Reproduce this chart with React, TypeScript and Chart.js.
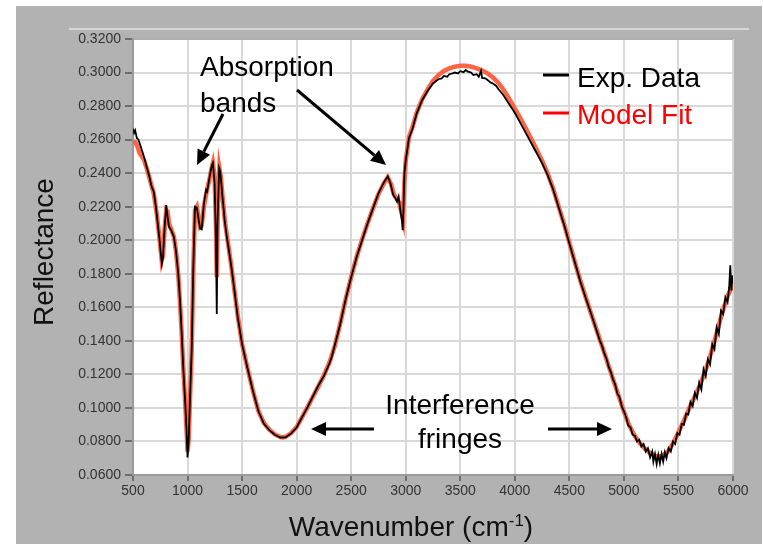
import React, { useEffect, useRef } from "react";
import { Chart, registerables } from "chart.js";

Chart.register(...registerables);

// Model fit (red) — wavenumber (cm-1) and reflectance
const fitWavenumber = [
  500, 520, 540, 560, 580, 600, 630, 660, 690, 715, 735, 750, 763, 775, 790, 805, 818, 830, 850, 875,
  895, 915, 930, 946, 960, 977, 990, 1000, 1010, 1025, 1038, 1053, 1068, 1085, 1100, 1115, 1130, 1150,
  1175, 1200, 1220, 1232, 1248, 1260, 1268, 1278, 1292, 1305, 1325, 1345, 1365, 1400, 1430, 1460, 1500,
  1550, 1600, 1650, 1700, 1750, 1800, 1850, 1875, 1900, 1950, 2000, 2050, 2100, 2150, 2200, 2250, 2300,
  2350, 2400, 2450, 2500, 2550, 2600, 2650, 2700, 2750, 2800, 2835, 2865, 2890, 2915, 2940, 2960, 2975,
  2988, 3000, 3030, 3060, 3100, 3150, 3200, 3250, 3300, 3350, 3400, 3450, 3500, 3550, 3600, 3650, 3700,
  3750, 3800, 3850, 3900, 3950, 4000, 4050, 4100, 4150, 4200, 4250, 4300, 4350, 4400, 4450, 4500, 4550,
  4600, 4650, 4700, 4750, 4800, 4850, 4900, 4950, 5000, 5050, 5100, 5150, 5200, 5250, 5300, 5350, 5400,
  5450, 5500, 5550, 5600, 5650, 5700, 5750, 5800, 5850, 5900, 5950, 6000,
];
const fitReflectance = [
  0.259, 0.2585, 0.256, 0.252, 0.25, 0.248, 0.242, 0.235, 0.228, 0.217, 0.206, 0.197, 0.188, 0.191, 0.207,
  0.218, 0.217, 0.21, 0.2065, 0.202, 0.193, 0.179, 0.164, 0.145, 0.125, 0.105, 0.088, 0.074, 0.081, 0.11,
  0.1345, 0.183, 0.218, 0.22, 0.214, 0.208, 0.209, 0.22, 0.229, 0.236, 0.243, 0.246, 0.238, 0.21, 0.178,
  0.22, 0.243, 0.238, 0.223, 0.21, 0.201, 0.185, 0.17, 0.155, 0.138, 0.1235, 0.11, 0.098, 0.091, 0.087,
  0.0842, 0.0826, 0.0824, 0.0828, 0.085, 0.0886, 0.0945, 0.1005, 0.1068, 0.113, 0.1195, 0.127, 0.137,
  0.1505, 0.165, 0.178, 0.19, 0.2005, 0.21, 0.219, 0.2275, 0.234, 0.2375, 0.2335, 0.2275, 0.225, 0.2225,
  0.217, 0.2125, 0.235, 0.2475, 0.2615, 0.267, 0.276, 0.284, 0.29, 0.295, 0.2985, 0.301, 0.3025, 0.3035,
  0.304, 0.304, 0.3035, 0.3025, 0.3012, 0.2995, 0.297, 0.2938, 0.2895, 0.2842, 0.2785, 0.2728, 0.2668,
  0.2605, 0.254, 0.2475, 0.24, 0.231, 0.2205, 0.21, 0.1985, 0.187, 0.176, 0.166, 0.156, 0.1465, 0.1368,
  0.127, 0.1172, 0.1075, 0.0978, 0.0893, 0.0832, 0.0787, 0.0752, 0.0727, 0.071, 0.0714, 0.0738, 0.0788,
  0.0855, 0.0925, 0.1, 0.1068, 0.114, 0.1228, 0.133, 0.1445, 0.1565, 0.1665, 0.174,
];

// Experimental data (black)
const expWavenumber = [
  500, 510, 520, 535, 550, 570, 600, 620, 650, 670, 690, 710, 730, 745, 755, 765, 775, 790, 805, 815,
  830, 850, 875, 895, 915, 930, 946, 960, 977, 990, 1000, 1010, 1025, 1038, 1053, 1068, 1085, 1100, 1115,
  1130, 1150, 1170, 1180, 1200, 1220, 1232, 1248, 1260, 1268, 1275, 1290, 1300, 1320, 1340, 1360, 1400,
  1430, 1460, 1500, 1550, 1600, 1650, 1700, 1750, 1800, 1850, 1900, 1950, 2000, 2050, 2100, 2150, 2200,
  2250, 2300, 2320, 2340, 2400, 2450, 2500, 2550, 2600, 2650, 2700, 2750, 2800, 2835, 2860, 2885, 2905,
  2920, 2935, 2950, 2965, 2972, 2980, 2988, 3000, 3030, 3060, 3100, 3150, 3200, 3250, 3300, 3330, 3350,
  3380, 3400, 3430, 3450, 3480, 3500, 3530, 3550, 3570, 3600, 3620, 3650, 3670, 3690, 3700, 3730, 3750,
  3780, 3800, 3830, 3850, 3880, 3900, 3950, 4000, 4050, 4100, 4150, 4200, 4250, 4300, 4350, 4400, 4450,
  4500, 4550, 4600, 4650, 4700, 4750, 4780, 4800, 4820, 4840, 4860, 4880, 4900, 4920, 4940, 4960, 4980,
  5000, 5020, 5040, 5060, 5080, 5100, 5120, 5140, 5160, 5180, 5200, 5220, 5240, 5260, 5270, 5285, 5300,
  5315, 5330, 5345, 5360, 5375, 5390, 5410, 5430, 5450, 5470, 5490, 5510, 5530, 5550, 5570, 5590, 5610,
  5630, 5650, 5670, 5690, 5710, 5730, 5750, 5770, 5790, 5810, 5830, 5850, 5870, 5890, 5910, 5930, 5950,
  5965, 5975, 5985, 5993, 6000,
];
const expReflectance = [
  0.2665, 0.264, 0.2655, 0.261, 0.26, 0.256, 0.25, 0.245, 0.238, 0.232, 0.229, 0.22, 0.208, 0.199, 0.192,
  0.186, 0.19, 0.208, 0.221, 0.215, 0.208, 0.206, 0.202, 0.193, 0.18, 0.165, 0.145, 0.125, 0.105, 0.088,
  0.0705, 0.08, 0.11, 0.1345, 0.184, 0.22, 0.2195, 0.213, 0.207, 0.2065, 0.222, 0.23, 0.229, 0.237, 0.244,
  0.246, 0.234, 0.2, 0.156, 0.21, 0.243, 0.241, 0.226, 0.212, 0.202, 0.185, 0.17, 0.154, 0.138, 0.1235,
  0.11, 0.098, 0.0905, 0.0868, 0.084, 0.0823, 0.0825, 0.0848, 0.0883, 0.0945, 0.1005, 0.107, 0.1135,
  0.119, 0.1265, 0.13, 0.135, 0.15, 0.165, 0.178, 0.19, 0.2, 0.21, 0.219, 0.228, 0.2345, 0.238, 0.234,
  0.227, 0.225, 0.223, 0.226, 0.218, 0.212, 0.206, 0.22, 0.24, 0.2475, 0.261, 0.266, 0.2755, 0.2835,
  0.289, 0.2935, 0.296, 0.2965, 0.298, 0.2975, 0.299, 0.2995, 0.3, 0.2995, 0.3008, 0.3002, 0.3015, 0.3005,
  0.3, 0.2985, 0.299, 0.2975, 0.301, 0.2968, 0.2965, 0.2955, 0.294, 0.2935, 0.292, 0.29, 0.2878, 0.286,
  0.281, 0.276, 0.27, 0.264, 0.258, 0.252, 0.246, 0.239, 0.2305, 0.22, 0.2095, 0.198, 0.1868, 0.1755,
  0.1655, 0.156, 0.146, 0.14, 0.137, 0.1325, 0.1295, 0.1245, 0.1215, 0.117, 0.114, 0.1085, 0.1065, 0.101,
  0.098, 0.0945, 0.0895, 0.0885, 0.084, 0.0835, 0.08, 0.081, 0.077, 0.0785, 0.074, 0.076, 0.0705, 0.074,
  0.068, 0.0725, 0.0665, 0.072, 0.067, 0.0725, 0.068, 0.0735, 0.07, 0.076, 0.074, 0.08, 0.0785, 0.085,
  0.084, 0.0905, 0.09, 0.0965, 0.096, 0.1035, 0.101, 0.109, 0.106, 0.115, 0.111, 0.123, 0.119, 0.129,
  0.126, 0.138, 0.135, 0.148, 0.144, 0.158, 0.156, 0.166, 0.163, 0.172, 0.185, 0.17, 0.179, 0.174,
];

const xTickValues = [500, 1000, 1500, 2000, 2500, 3000, 3500, 4000, 4500, 5000, 5500, 6000];
const legendLabels = ["Exp. Data", "Model Fit"];

const FONT = '"Liberation Sans", Arial, Helvetica, sans-serif';

function arrow(ctx: CanvasRenderingContext2D, x1: number, y1: number, x2: number, y2: number) {
  const ang = Math.atan2(y2 - y1, x2 - x1);
  const hl = 15;
  const hw = 7;
  const bx = x2 - hl * Math.cos(ang);
  const by = y2 - hl * Math.sin(ang);
  ctx.save();
  ctx.strokeStyle = "#000";
  ctx.fillStyle = "#000";
  ctx.lineWidth = 3;
  ctx.beginPath();
  ctx.moveTo(x1, y1);
  ctx.lineTo(bx, by);
  ctx.stroke();
  ctx.beginPath();
  ctx.moveTo(x2, y2);
  ctx.lineTo(bx + hw * Math.sin(ang), by - hw * Math.cos(ang));
  ctx.lineTo(bx - hw * Math.sin(ang), by + hw * Math.cos(ang));
  ctx.closePath();
  ctx.fill();
  ctx.restore();
}

const decorPlugin = {
  id: "decor",
  beforeDraw(chart: any) {
    const ctx = chart.ctx as CanvasRenderingContext2D;
    const a = chart.chartArea;
    ctx.save();
    ctx.fillStyle = "#b3b2b3";
    ctx.fillRect(16, 6, 746, 538);
    ctx.strokeStyle = "#d6d6d6";
    ctx.lineWidth = 2;
    ctx.beginPath();
    ctx.moveTo(69, 29);
    ctx.lineTo(749, 29);
    ctx.stroke();
    ctx.fillStyle = "#ffffff";
    ctx.fillRect(a.left, a.top, a.right - a.left, a.bottom - a.top);
    ctx.restore();
  },
  afterDraw(chart: any) {
    const ctx = chart.ctx as CanvasRenderingContext2D;
    const a = chart.chartArea;
    ctx.save();
    // top border of plot
    ctx.strokeStyle = "#a0a0a0";
    ctx.lineWidth = 1.5;
    ctx.beginPath();
    ctx.moveTo(a.left, a.top);
    ctx.lineTo(a.right, a.top);
    ctx.stroke();

    // legend
    ctx.lineWidth = 3;
    ctx.strokeStyle = "#000";
    ctx.beginPath();
    ctx.moveTo(543, 75);
    ctx.lineTo(569, 75);
    ctx.stroke();
    ctx.strokeStyle = "#ff0000";
    ctx.beginPath();
    ctx.moveTo(543, 113);
    ctx.lineTo(569, 113);
    ctx.stroke();
    ctx.font = `28px ${FONT}`;
    ctx.textBaseline = "alphabetic";
    ctx.textAlign = "left";
    ctx.fillStyle = "#000";
    ctx.fillText(legendLabels[0], 577, 87);
    ctx.fillStyle = "#ff0000";
    ctx.fillText(legendLabels[1], 577, 123.5);

    // annotations
    ctx.fillStyle = "#000";
    ctx.fillText("Absorption", 200, 76);
    ctx.fillText("bands", 200, 111.5);
    ctx.textAlign = "center";
    ctx.fillText("Interference", 460, 414);
    ctx.fillText("fringes", 460, 448);
    arrow(ctx, 223, 114, 197, 165);
    arrow(ctx, 297, 90, 386, 165);
    arrow(ctx, 374, 429, 311, 429);
    arrow(ctx, 548, 429, 612, 429);

    // y title
    ctx.save();
    ctx.translate(53, 252);
    ctx.rotate(-Math.PI / 2);
    ctx.textAlign = "center";
    ctx.fillStyle = "#111";
    ctx.font = `28px ${FONT}`;
    ctx.fillText("Reflectance", 0, 0);
    ctx.restore();

    // x title with superscript
    ctx.fillStyle = "#111";
    ctx.textAlign = "left";
    const main = "Wavenumber (cm";
    const sup = "-1";
    const close = ")";
    ctx.font = `28px ${FONT}`;
    const w1 = ctx.measureText(main).width;
    const w3 = ctx.measureText(close).width;
    ctx.font = `17px ${FONT}`;
    const w2 = ctx.measureText(sup).width;
    const total = w1 + w2 + w3;
    let x = 411 - total / 2;
    const base = 536;
    ctx.font = `28px ${FONT}`;
    ctx.fillText(main, x, base);
    x += w1;
    ctx.font = `17px ${FONT}`;
    ctx.fillText(sup, x, base - 10);
    x += w2;
    ctx.font = `28px ${FONT}`;
    ctx.fillText(close, x, base);
    ctx.restore();
  },
};

export default function App() {
  const ref = useRef<HTMLCanvasElement | null>(null);
  useEffect(() => {
    if (!ref.current) return;
    const chart = new Chart(ref.current, {
      type: "line",
      data: {
        datasets: [
          {
            label: legendLabels[0],
            data: expWavenumber.map((x, i) => ({ x, y: expReflectance[i] })),
            borderColor: "#000000",
            borderWidth: 1.8,
            pointRadius: 0,
            tension: 0,
            fill: false,
          },
          {
            label: legendLabels[1],
            data: fitWavenumber.map((x, i) => ({ x, y: fitReflectance[i] })),
            borderColor: "rgba(255,92,58,0.95)",
            borderWidth: 4.5,
            pointRadius: 0,
            tension: 0,
            fill: false,
          },
        ],
      },
      options: {
        animation: false,
        responsive: false,
        maintainAspectRatio: false,
        layout: { padding: { left: 0, top: 39, right: 30, bottom: 0 } },
        plugins: { legend: { display: false }, tooltip: { enabled: false } },
        scales: {
          x: {
            type: "linear",
            min: 500,
            max: 6000,
            afterBuildTicks: (s: any) => {
              s.ticks = xTickValues.map((v) => ({ value: v }));
            },
            ticks: {
              font: { family: FONT, size: 14 },
              color: "#333",
              padding: 2,
              maxRotation: 0,
              autoSkip: false,
              callback: (v: any) => String(v),
            },
            grid: { color: "#d9d9d9", lineWidth: 2, tickColor: "#555", tickLength: 6, tickWidth: 1.5 },
            border: { color: "#9a9a9a", width: 2 },
            afterFit: (s: any) => {
              s.height = 69;
            },
          },
          y: {
            type: "linear",
            min: 0.06,
            max: 0.32,
            ticks: {
              stepSize: 0.02,
              font: { family: FONT, size: 14 },
              color: "#333",
              padding: 4,
              callback: (v: any) => Number(v).toFixed(4),
            },
            grid: { color: "#d9d9d9", lineWidth: 2, tickColor: "#555", tickLength: 8, tickWidth: 1.5 },
            border: { color: "#9a9a9a", width: 2 },
            afterFit: (s: any) => {
              s.width = 133;
            },
          },
        },
      },
      plugins: [decorPlugin],
    } as any);
    return () => chart.destroy();
  }, []);
  return (
    <div style={{ position: "fixed", left: 0, top: 0, width: 763, height: 544, background: "#fff" }}>
      <canvas ref={ref} width={763} height={544} style={{ display: "block", width: 763, height: 544 }} />
    </div>
  );
}
